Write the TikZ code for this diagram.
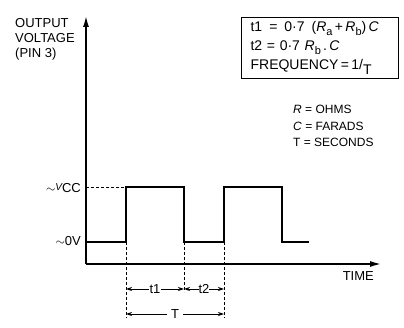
\documentclass[tikz,border=0pt]{standalone}
\usepackage{fontspec}
\setmainfont{Liberation Sans}
\usetikzlibrary{arrows.meta}

\newcommand{\tmrsub}[1]{\raisebox{-0.45ex}{\fontsize{11}{11}\selectfont #1}}

\begin{document}
\begin{tikzpicture}[
  x=1pt, y=-1pt,
  tmraxis/.style = {line width=1.4pt, -{Latex[length=11pt,width=6pt]}},
  tmrwave/.style = {line width=1.8pt},
  tmrdash/.style = {line width=0.9pt, dash pattern=on 3pt off 2pt},
  tmrdim/.style = {line width=0.9pt, {Stealth[length=6pt,width=4pt]}-{Stealth[length=6pt,width=4pt]}},
  tmrlbl/.style = {font=\fontsize{13}{15}\selectfont, inner sep=1pt},
  tmrbox/.style = {draw, line width=1.2pt, align=left, text width=139pt,
                   inner xsep=9pt, inner ysep=4pt, font=\fontsize{14}{19}\selectfont}
]
  \useasboundingbox (0,0) rectangle (404,328);
  % axes
  \coordinate (o) at (86,264);
  \coordinate (ytop) at (86,16);
  \coordinate (xend) at (381,264);
  \draw[tmraxis] (o) -- (ytop);
  \draw[tmraxis] (o) -- (xend);
  % edges of the square wave
  \foreach \n/\x in {r1/126, f1/184, r2/224, f2/282} {
    \coordinate (\n lo) at (\x,242);
    \coordinate (\n hi) at (\x,187);
  }
  \coordinate (wend) at (309,242);
  \draw[tmrwave] (o |- r1lo) -- (r1lo) -- (r1hi) -- (f1hi) -- (f1lo)
    -- (r2lo) -- (r2hi) -- (f2hi) -- (f2lo) -- (wend);
  \draw[tmrdash] (o |- r1hi) -- (r1hi);
  % timing marks
  \coordinate (r1dn) at (126,318);
  \coordinate (f1dn) at (184,292);
  \coordinate (r2dn) at (224,318);
  \foreach \n in {r1, f1, r2} {
    \draw[tmrdash] (\n lo) -- (\n dn);
  }
  \draw[tmrdim] (126,289) coordinate (t1a) -- (184,289) coordinate (t1b)
    node[tmrlbl, midway, fill=white] (t1) {t1};
  \draw[tmrdim] (t1b) -- (224,289) coordinate (t2b)
    node[tmrlbl, midway, fill=white, inner xsep=0pt] (t2) {t2};
  \draw[tmrdim] (126,314) coordinate (pa) -- (224,314) coordinate (pb)
    node[tmrlbl, midway, fill=white, inner xsep=4pt] (per) {T};
  % labels
  \node[tmrlbl, align=left, anchor=north west] (ylbl) at (14,17)
    {OUTPUT\\VOLTAGE\\(PIN 3)};
  \node[tmrlbl, anchor=east] (vcc) at (82,188)
    {$\sim$\raisebox{0.35ex}{\fontsize{10}{10}\selectfont\itshape V}CC};
  \node[tmrlbl, anchor=east] (gnd) at (82,241) {$\sim$0V};
  \node[tmrlbl, anchor=north east] (time) at (375,270) {TIME};
  \node[tmrbox, anchor=north west] (eqs) at (241,17)
    {t1 \,=\, 0·7 \,(\textit{R}\tmrsub{a}\,+\,\textit{R}\tmrsub{b})\,\textit{C}\\
     t2 = 0·7 \textit{R}\tmrsub{b}\,.\,\textit{C}\\
     FREQUENCY\,=\,1/\raisebox{-0.6ex}{T}};
  \node[tmrlbl, align=left, anchor=north west, font=\fontsize{12}{16.5}\selectfont]
    (units) at (292,104)
    {\textit{R} = OHMS\\\textit{C} = FARADS\\T = SECONDS};
\end{tikzpicture}
\end{document}
